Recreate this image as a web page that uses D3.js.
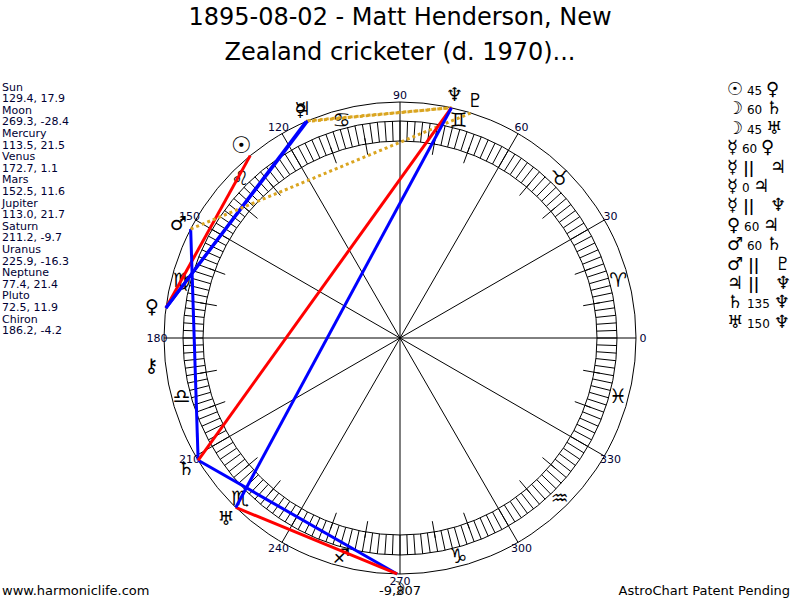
<!DOCTYPE html>
<html>
<head>
<meta charset="utf-8">
<script src="https://cdn.jsdelivr.net/npm/d3@7"></script>
<style>
  body { margin: 0; background: #fff; }
  svg { font-family: 'DejaVu Sans', Verdana, sans-serif; }
</style>
</head>
<body>
<svg id="chart" width="800" height="600"></svg>
<script>
// dati
const titleLines = ['1895-08-02 - Matt Henderson, New', 'Zealand cricketer (d. 1970)...']
const planetNames = ['Sun', 'Moon', 'Mercury', 'Venus', 'Mars', 'Jupiter', 'Saturn', 'Uranus', 'Neptune', 'Pluto', 'Chiron']
const planetGlyphs = ['☉', '☽', '☿', '♀', '♂', '♃', '♄', '♅', '♆', '♇', '⚷']
const longitudes = [129.4, 269.3, 113.5, 172.7, 152.5, 113.0, 211.2, 225.9, 77.4, 72.5, 186.2]
const declinations = [17.9, -28.4, 21.5, 1.1, 11.6, 21.7, -9.7, -16.3, 21.4, 11.9, -4.2]
const signGlyphs = ['♈', '♉', '♊', '♋', '♌', '♍', '♎', '♏', '♐', '♑', '♒', '♓']
const degreeLabels = [0, 30, 60, 90, 120, 150, 180, 210, 240, 270, 300, 330]
const aspectFrom = ['Sun', 'Moon', 'Moon', 'Mercury', 'Mercury', 'Mercury', 'Mercury', 'Venus', 'Mars', 'Mars', 'Jupiter', 'Saturn', 'Uranus']
const aspectTo = ['Venus', 'Saturn', 'Uranus', 'Venus', 'Jupiter', 'Jupiter', 'Neptune', 'Jupiter', 'Saturn', 'Pluto', 'Neptune', 'Neptune', 'Neptune']
const aspectKind = ['45', '60', '45', '60', '||', '0', '||', '60', '60', '||', '||', '135', '150']
const footerValue = '-9,807'

const svg = d3.select('#chart')

// geometria della ruota
const cx = 400, cy = 338
const rOuter = 236
const rBandOut = 217, rBandIn = 197
const rTickIn = 186, rTickOut = 203
const rSign = 226, rLabel = 243, rPlanet = 250

// longitudine (antioraria da est) -> angolo per d3.pointRadial
const angle = d3.scaleLinear().domain([0, 360]).range([Math.PI / 2, Math.PI / 2 - 2 * Math.PI])
const pos = (lon, r) => {
  const p = d3.pointRadial(angle(lon), r)
  return [cx + p[0], cy + p[1]]
}

const kindColor = d3.scaleOrdinal()
  .domain(['45', '135', '60', '150', '||', '0'])
  .range(['#ff0000', '#ff0000', '#0000ff', '#0000ff', '#daa520', 'none'])

// titolo
svg.selectAll('.title')
  .data(titleLines)
  .join('text')
  .attr('class', 'title')
  .attr('x', 400)
  .attr('y', (d, i) => 25 + i * 35)
  .attr('text-anchor', 'middle')
  .attr('font-size', 24)
  .attr('fill', '#000')
  .text(d => d)

// lista a sinistra
const leftRows = []
planetNames.forEach((n, i) => {
  leftRows.push(n)
  leftRows.push(`${longitudes[i].toFixed(1)}, ${declinations[i].toFixed(1)}`)
})
svg.selectAll('.left')
  .data(leftRows)
  .join('text')
  .attr('class', 'left')
  .attr('x', 2)
  .attr('y', (d, i) => 90.5 + i * 11.6)
  .attr('font-size', 11)
  .attr('fill', '#000033')
  .text(d => d)

const wheel = svg.append('g')

// cerchi
wheel.selectAll('circle')
  .data([rOuter, rBandOut, rBandIn])
  .join('circle')
  .attr('cx', cx).attr('cy', cy).attr('r', d => d)
  .attr('fill', 'none').attr('stroke', '#000').attr('stroke-width', 1)

// tacche della fascia ogni 2 gradi
wheel.append('g').selectAll('line')
  .data(d3.range(0, 360, 2))
  .join('line')
  .attr('x1', d => pos(d, rBandIn)[0]).attr('y1', d => pos(d, rBandIn)[1])
  .attr('x2', d => pos(d, rBandOut)[0]).attr('y2', d => pos(d, rBandOut)[1])
  .attr('stroke', '#000').attr('stroke-width', 1)

// tacche ogni 10 gradi
wheel.append('g').selectAll('line')
  .data(d3.range(0, 360, 10).filter(d => d % 30 !== 0))
  .join('line')
  .attr('x1', d => pos(d, rTickIn)[0]).attr('y1', d => pos(d, rTickIn)[1])
  .attr('x2', d => pos(d, rTickOut)[0]).attr('y2', d => pos(d, rTickOut)[1])
  .attr('stroke', '#000').attr('stroke-width', 1)

// raggi ogni 30 gradi
wheel.append('g').selectAll('line')
  .data(degreeLabels)
  .join('line')
  .attr('x1', cx).attr('y1', cy)
  .attr('x2', d => pos(d, rOuter)[0]).attr('y2', d => pos(d, rOuter)[1])
  .attr('stroke', '#000').attr('stroke-width', 1)

// etichette dei gradi
wheel.append('g').selectAll('text')
  .data(degreeLabels)
  .join('text')
  .attr('x', d => pos(d, rLabel)[0]).attr('y', d => pos(d, rLabel)[1])
  .attr('text-anchor', 'middle').attr('dominant-baseline', 'central')
  .attr('font-size', 11).attr('fill', '#000033')
  .text(d => d)

// segni zodiacali
wheel.append('g').selectAll('text')
  .data(signGlyphs)
  .join('text')
  .attr('x', (d, i) => pos(15 + i * 30, rSign)[0]).attr('y', (d, i) => pos(15 + i * 30, rSign)[1])
  .attr('text-anchor', 'middle').attr('dominant-baseline', 'central')
  .attr('font-size', 20).attr('fill', '#000')
  .text(d => d)

// linee degli aspetti
const lonOf = name => longitudes[planetNames.indexOf(name)]
const aspects = aspectKind.map((k, i) => ({ a: lonOf(aspectFrom[i]), b: lonOf(aspectTo[i]), kind: k }))
wheel.append('g').selectAll('line')
  .data(aspects)
  .join('line')
  .attr('x1', d => pos(d.a, rOuter)[0]).attr('y1', d => pos(d.a, rOuter)[1])
  .attr('x2', d => pos(d.b, rOuter)[0]).attr('y2', d => pos(d.b, rOuter)[1])
  .attr('stroke', d => kindColor(d.kind))
  .attr('stroke-width', 3)
  .attr('stroke-dasharray', d => d.kind === '||' ? '3,3' : null)

// simboli dei pianeti
wheel.append('g').selectAll('text')
  .data(planetGlyphs)
  .join('text')
  .attr('x', (d, i) => pos(longitudes[i], rPlanet)[0])
  .attr('y', (d, i) => pos(longitudes[i], rPlanet)[1])
  .attr('text-anchor', 'middle').attr('dominant-baseline', 'central')
  .attr('font-size', (d, i) => i === 0 ? 23 : 19)
  .attr('font-weight', (d, i) => i < 2 ? 'bold' : 'normal')
  .attr('fill', '#000')
  .text(d => d)

// lista degli aspetti a destra
const glyphOf = name => planetGlyphs[planetNames.indexOf(name)]
const rows = svg.append('g').selectAll('text')
  .data(aspects.map((d, i) => ({ g1: glyphOf(aspectFrom[i]), g2: glyphOf(aspectTo[i]), kind: d.kind })))
  .join('text')
  .attr('x', 727)
  .attr('y', (d, i) => 95 + i * 19.4)
  .attr('fill', '#000')
  .style('white-space', 'pre')
rows.append('tspan').attr('font-size', 18).attr('font-weight', d => (d.g1 === '☉' || d.g1 === '☽') ? 'bold' : 'normal').text(d => d.g1)
rows.append('tspan').attr('font-size', d => d.kind === '||' ? 15 : 12)
  .attr('font-weight', d => d.kind === '||' ? 'bold' : 'normal')
  .text(d => d.kind === '||' ? ' ||   ' : ` ${d.kind} `)
rows.append('tspan').attr('font-size', 18).text(d => d.g2)

// testi in basso
svg.append('text').attr('x', 2).attr('y', 595).attr('font-size', 13).attr('fill', '#000').text('www.harmoniclife.com')
svg.append('text').attr('x', 790).attr('y', 595).attr('text-anchor', 'end').attr('font-size', 13).attr('fill', '#000').text('AstroChart Patent Pending')
svg.append('text').attr('x', 400).attr('y', 595).attr('text-anchor', 'middle').attr('font-size', 13).attr('fill', '#000').text(footerValue)
</script>
</body>
</html>
